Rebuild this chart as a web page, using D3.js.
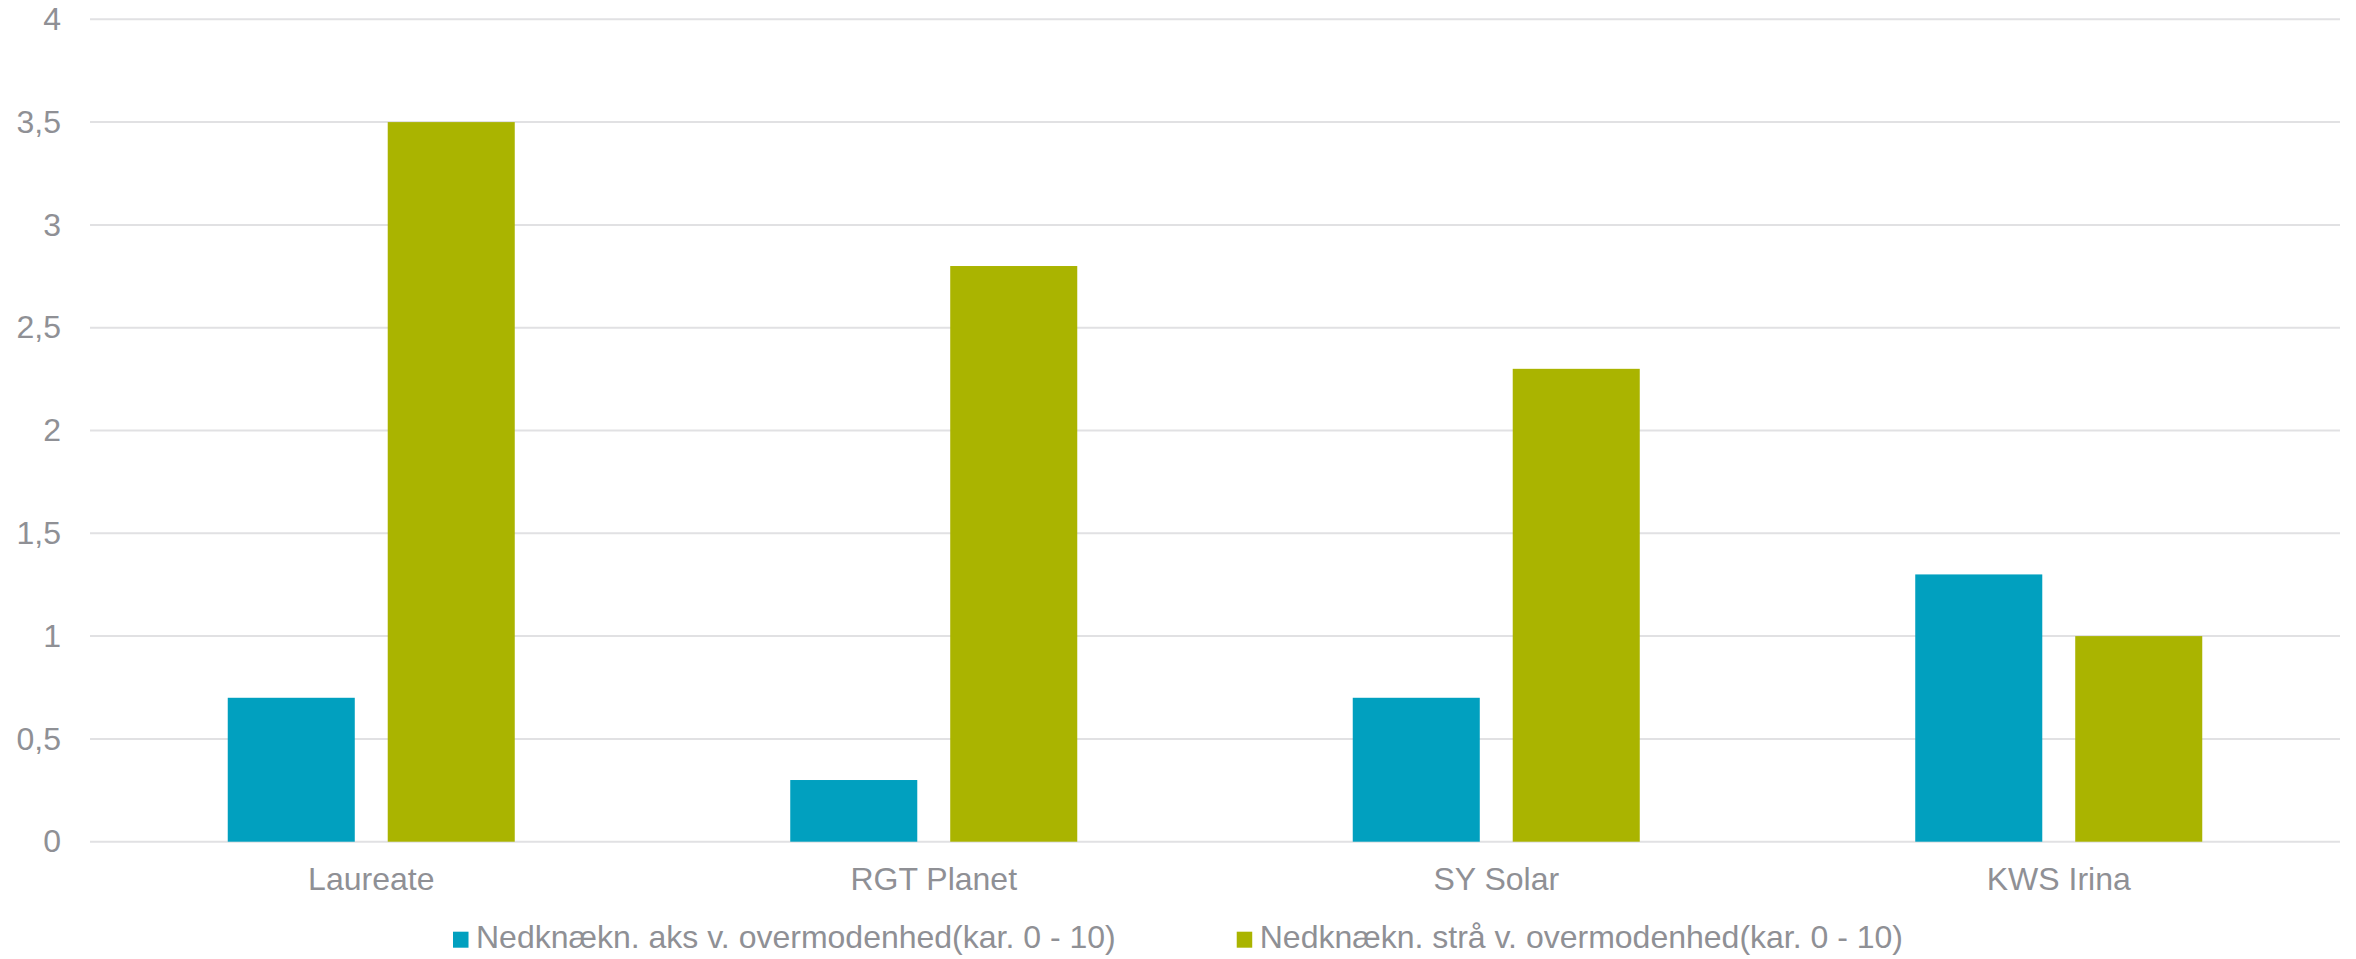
<!DOCTYPE html>
<html>
<head>
<meta charset="utf-8">
<script src="https://cdn.jsdelivr.net/npm/d3@7"></script>
<style>
  body { margin: 0; background: #fff; }
  svg text { font-family: "Liberation Sans", Arial, sans-serif; fill: #8f9095; }
</style>
</head>
<body>
<div id="chart"></div>
<script>
// data
var categories = ["Laureate", "RGT Planet", "SY Solar", "KWS Irina"];
var seriesNames = ["Nedknækn. aks v. overmodenhed(kar. 0 - 10)",
                   "Nedknækn. strå v. overmodenhed(kar. 0 - 10)"];
var aksValues = [0.7, 0.3, 0.7, 1.3];
var straValues = [3.5, 2.8, 2.3, 1.0];
var yTicks = [0, 0.5, 1, 1.5, 2, 2.5, 3, 3.5, 4];
var colors = ["#01a0bf", "#aab400"];

var width = 2356, height = 959;
var margin = {top: 19.3, right: 16, bottom: 117.3, left: 90};
var fontSize = 32;

var svg = d3.select("#chart").append("svg")
    .attr("width", width)
    .attr("height", height);

var data = categories.map(function (c, i) {
    return {cat: c, values: [aksValues[i], straValues[i]]};
});

var x0 = d3.scaleBand()
    .domain(categories)
    .range([margin.left, width - margin.right])
    .padding(0);

var x1 = d3.scaleBand()
    .domain([0, 1])
    .range([0, x0.bandwidth()])
    .paddingInner(0.206)
    .paddingOuter(0.861);

var y = d3.scaleLinear()
    .domain([0, 4])
    .range([height - margin.bottom, margin.top]);

// gridlines
svg.append("g")
    .selectAll("line")
    .data(yTicks)
    .enter()
    .append("line")
    .attr("x1", margin.left)
    .attr("x2", width - margin.right)
    .attr("y1", function (d) { return y(d); })
    .attr("y2", function (d) { return y(d); })
    .style("stroke", "#e1e1e3")
    .style("stroke-width", 2);

// y axis labels
var yAxis = svg.append("g")
    .attr("transform", "translate(" + (margin.left - 29) + ",0)")
    .call(d3.axisLeft(y).tickValues(yTicks).tickSize(0).tickPadding(0)
        .tickFormat(function (d) { return String(d).replace(".", ","); }));
yAxis.select(".domain").remove();
yAxis.selectAll("text")
    .style("font-size", fontSize + "px")
    .attr("fill", null);

// bars
svg.append("g")
    .selectAll("g")
    .data(data)
    .enter()
    .append("g")
    .attr("transform", function (d) { return "translate(" + x0(d.cat) + ",0)"; })
    .selectAll("rect")
    .data(function (d) { return d.values.map(function (v, i) { return {i: i, v: v}; }); })
    .enter()
    .append("rect")
    .attr("x", function (d) { return x1(d.i); })
    .attr("y", function (d) { return y(d.v); })
    .attr("width", x1.bandwidth())
    .attr("height", function (d) { return y(0) - y(d.v); })
    .style("fill", function (d) { return colors[d.i]; });

// category labels
var xAxis = svg.append("g")
    .attr("transform", "translate(0," + y(0) + ")")
    .call(d3.axisBottom(x0).tickSize(0).tickPadding(0));
xAxis.select(".domain").remove();
xAxis.selectAll("text")
    .attr("dy", null)
    .attr("y", 48)
    .style("font-size", fontSize + "px")
    .attr("fill", null);

// legend
var legend = svg.append("g");
var items = legend.selectAll("g")
    .data(seriesNames)
    .enter()
    .append("g");
items.append("rect")
    .attr("width", 15.5)
    .attr("height", 16)
    .attr("y", -16)
    .style("fill", function (d, i) { return colors[i]; });
items.append("text")
    .attr("x", 23)
    .attr("y", 0)
    .style("font-size", fontSize + "px")
    .text(function (d) { return d; });

var itemGap = 121;
var widths = [];
items.each(function () { widths.push(this.getBBox().width); });
var total = d3.sum(widths) + itemGap * (widths.length - 1);
var pos = width / 2 - total / 2;
items.attr("transform", function (d, i) {
    var px = pos;
    pos += widths[i] + itemGap;
    return "translate(" + px + ",947.7)";
});
</script>
</body>
</html>
